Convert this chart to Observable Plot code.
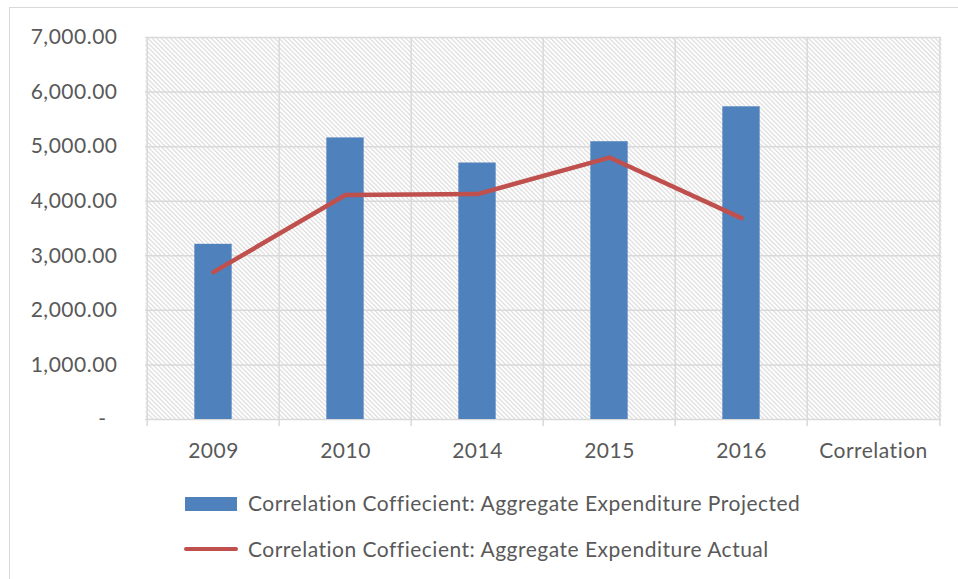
<!DOCTYPE html>
<html><head><meta charset="utf-8">
<script src="https://cdn.jsdelivr.net/npm/d3@7"></script>
<script src="https://cdn.jsdelivr.net/npm/@observablehq/plot@0.6"></script>
<style>
body{margin:0;background:#fff;font-family:Lato,sans-serif;overflow:hidden;width:958px;height:579px;position:relative;}
#frame{position:absolute;left:9px;top:7px;width:1000px;height:1000px;border:1.5px solid #d9d9d9;box-sizing:border-box;}
#chart{position:absolute;left:0;top:0;}
#chart svg text{letter-spacing:0.5px;}
.lg-swatch{position:absolute;}
.lg-text{position:absolute;left:248px;font-size:21px;line-height:24px;letter-spacing:0.5px;color:#595959;white-space:nowrap;font-family:Lato,sans-serif;}
</style></head><body>
<div id="frame"></div>
<div id="chart"></div>
<div id="legend"></div>
<script>
const categories = ["2009", "2010", "2014", "2015", "2016", "Correlation"];
const projected = [3210, 5160, 4700, 5090, 5730, null];
const actual = [2700, 4115, 4130, 4800, 3690, null];
const yTicks = [0, 1000, 2000, 3000, 4000, 5000, 6000, 7000];
const seriesNames = [
  "Correlation Coffiecient: Aggregate Expenditure Projected",
  "Correlation Coffiecient: Aggregate Expenditure Actual"
];
const colors = ["#4F81BD", "#C0504D"];

const data = categories.map((c, i) => ({category: c, projected: projected[i], actual: actual[i]}))
  .filter(d => d.projected != null);

const W = 958, H = 470, ml = 145, mr = 17, mt = 37, mb = 51;
const step = (W - ml - mr) / categories.length;
const barW = 38;
const grid = "#d9d9d9";
const fmt = v => v === 0 ? "-\u2002" : d3.format(",.2f")(v);

const plot = Plot.plot({
  width: W, height: H,
  marginLeft: ml, marginRight: mr, marginTop: mt, marginBottom: mb,
  style: {background: "transparent", fontFamily: "Lato, sans-serif", fontSize: "21px", color: "#595959"},
  x: {type: "band", domain: categories, padding: 0},
  y: {domain: [0, 7000]},
  marks: [
    Plot.frame({fill: "url(#hatch)", stroke: null}),
    Plot.ruleY(yTicks, {stroke: grid, strokeWidth: 1.5}),
    Plot.ruleX(categories, {x: d => d, dx: -step / 2, stroke: grid, strokeWidth: 1.5}),
    Plot.ruleX([categories[categories.length - 1]], {x: d => d, dx: step / 2, stroke: grid, strokeWidth: 1.5}),
    Plot.ruleX(categories, {x: d => d, y1: 0, y2: 0, insetBottom: -7, dx: -step / 2, stroke: grid, strokeWidth: 1.5}),
    Plot.ruleX([categories[categories.length - 1]], {x: d => d, y1: 0, y2: 0, insetBottom: -7, dx: step / 2, stroke: grid, strokeWidth: 1.5}),
    Plot.barY(data, {x: "category", y: "projected", fill: colors[0], insetLeft: (step - barW) / 2, insetRight: (step - barW) / 2}),
    Plot.line(data, {x: "category", y: "actual", stroke: colors[1], strokeWidth: 4.5, strokeLinecap: "round", strokeLinejoin: "round"}),
    Plot.axisY({ticks: yTicks, tickFormat: fmt, tickSize: 0, tickPadding: 28, fontSize: 21, label: null}),
    Plot.axisX({tickSize: 0, tickPadding: 24, fontSize: 21, label: null})
  ]
});

// hatch pattern definition (downward diagonal)
const ns = "http://www.w3.org/2000/svg";
const defs = document.createElementNS(ns, "defs");
const pat = document.createElementNS(ns, "pattern");
pat.setAttribute("id", "hatch");
pat.setAttribute("patternUnits", "userSpaceOnUse");
pat.setAttribute("width", "3.2");
pat.setAttribute("height", "3.2");
pat.setAttribute("patternTransform", "rotate(-45)");
const bg = document.createElementNS(ns, "rect");
bg.setAttribute("width", "3.2"); bg.setAttribute("height", "3.2"); bg.setAttribute("fill", "#ffffff");
const ln = document.createElementNS(ns, "rect");
ln.setAttribute("x", "0"); ln.setAttribute("y", "0"); ln.setAttribute("width", "1.2"); ln.setAttribute("height", "3.2");
ln.setAttribute("fill", "#dcdcdc");
pat.appendChild(bg); pat.appendChild(ln);
defs.appendChild(pat);
plot.insertBefore(defs, plot.firstChild);

document.getElementById("chart").appendChild(plot);

// legend
const legend = document.getElementById("legend");
const rows = [
  {swatch: {left: 185, top: 497, width: 52, height: 14, radius: 0}, textTop: 491},
  {swatch: {left: 184, top: 547, width: 54, height: 4, radius: 2}, textTop: 537}
];
seriesNames.forEach((name, i) => {
  const r = rows[i];
  const sw = document.createElement("div");
  sw.className = "lg-swatch";
  Object.assign(sw.style, {left: r.swatch.left + "px", top: r.swatch.top + "px", width: r.swatch.width + "px",
    height: r.swatch.height + "px", background: colors[i], borderRadius: r.swatch.radius + "px"});
  legend.appendChild(sw);
  const t = document.createElement("div");
  t.className = "lg-text";
  t.style.top = r.textTop + "px";
  t.textContent = name;
  legend.appendChild(t);
});
</script>
</body></html>
